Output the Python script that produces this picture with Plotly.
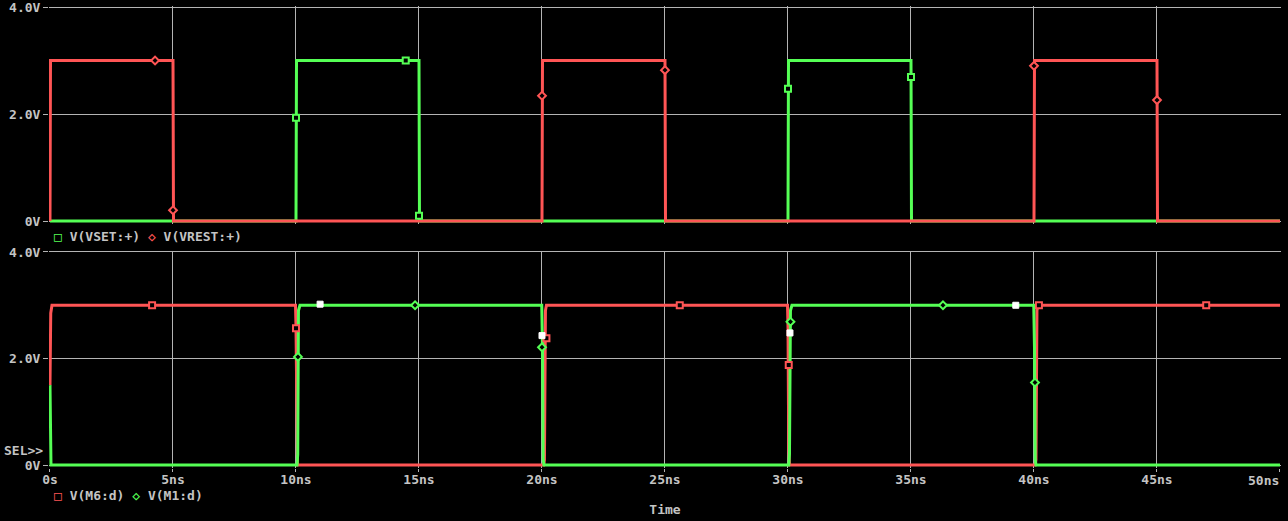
import plotly.graph_objects as go

# ---------------- data ----------------
# top panel
vset_t = [0, 10.0, 10.02, 15.0, 15.02, 30.0, 30.02, 35.0, 35.02, 50]
vset_v = [0, 0, 3, 3, 0, 0, 3, 3, 0, 0]
vrest_t = [0, 0.02, 5.0, 5.02, 20.0, 20.02, 25.0, 25.02, 40.0, 40.02, 45.0, 45.02, 50]
vrest_v = [0, 3, 3, 0, 0, 3, 3, 0, 0, 3, 3, 0, 0]
vset_mk_t = [10.0, 14.46, 15.0, 30.0, 35.0]
vset_mk_v = [1.93, 3.0, 0.1, 2.47, 2.69]
vrest_mk_t = [4.27, 5.0, 20.0, 25.0, 40.0, 45.0]
vrest_mk_v = [3.0, 0.2, 2.34, 2.82, 2.9, 2.26]

# bottom panel
m6_t = [0, 0.03, 0.08, 9.98, 10.0, 10.03, 10.06, 20.07, 20.1, 20.14, 20.18,
        29.98, 30.0, 30.03, 30.06, 40.05, 40.08, 40.12, 40.16, 50]
m6_v = [1.5, 2.85, 3.0, 3.0, 2.6, 0.3, 0.0, 0.0, 0.1, 2.9, 3.0,
        3.0, 2.6, 0.3, 0.0, 0.0, 0.1, 2.9, 3.0, 3.0]
m1_t = [0, 0.01, 0.04, 10.04, 10.07, 10.1, 10.16, 19.99, 20.02, 20.05, 20.08,
        30.03, 30.06, 30.1, 30.16, 39.99, 40.02, 40.05, 40.08, 50]
m1_v = [1.5, 0.35, 0.0, 0.0, 0.2, 2.9, 3.0, 3.0, 2.2, 0.1, 0.0,
        0.0, 0.2, 2.9, 3.0, 3.0, 2.2, 0.1, 0.0, 0.0]
m6_mk_t = [4.15, 10.0, 20.18, 25.6, 30.03, 40.2, 47.0]
m6_mk_v = [3.0, 2.57, 2.38, 3.0, 1.88, 3.0, 3.0]
m1_mk_t = [10.08, 14.84, 20.0, 30.1, 36.3, 40.04]
m1_mk_v = [2.03, 3.0, 2.21, 2.69, 3.0, 1.55]
cur_mk_t = [10.98, 20.0, 30.08, 39.26]
cur_mk_v = [3.02, 2.43, 2.48, 3.0]

x_tickvals = [0, 5, 10, 15, 20, 25, 30, 35, 40, 45, 50]
x_ticktext = ["0s", "5ns", "10ns", "15ns", "20ns", "25ns", "30ns", "35ns", "40ns", "45ns", "50ns"]
y_tickvals = [0, 2, 4]
y_ticktext = ["0V", "2.0V", "4.0V"]

# ---------------- style ----------------
W, H = 1288, 521
RED = "#ff5555"
GREEN = "#55ff55"
GRID = "#b4b4b4"
TXT = "#c4c4c4"
FONT = "DejaVu Sans Mono"

# pixel geometry
X0PX, X1PX = 50.0, 1280.0          # 0s .. 50ns
pxns = (X1PX - X0PX) / 50.0
xpad = 0.04
xr = [-xpad, 50 + xpad]
xdom = [(X0PX - xpad * pxns) / W, (X1PX + xpad * pxns) / W]

ypad_lo, ypad_hi = 0.05, 0.02
yr = [-ypad_lo, 4 + ypad_hi]
def ydom(top_px, zero_px):
    pxv = (zero_px - top_px) / 4.0
    bottom_px = zero_px + ypad_lo * pxv
    upper_px = top_px - ypad_hi * pxv
    return [(H - bottom_px) / H, (H - upper_px) / H]

fig = go.Figure()

def line(t, v, color, xa, ya):
    fig.add_trace(go.Scatter(x=t, y=v, mode="lines", line=dict(color=color, width=3),
                             xaxis=xa, yaxis=ya, showlegend=False, hoverinfo="skip"))

def marks(t, v, symbol, color, fill, size, xa, ya, lw=2):
    fig.add_trace(go.Scatter(x=t, y=v, mode="markers",
                             marker=dict(symbol=symbol, size=size, color=fill,
                                         line=dict(color=color, width=lw)),
                             cliponaxis=False,
                             xaxis=xa, yaxis=ya, showlegend=False, hoverinfo="skip"))

# top
line(vset_t, vset_v, GREEN, "x", "y")
line(vrest_t, vrest_v, RED, "x", "y")
marks(vset_mk_t, vset_mk_v, "square", GREEN, "black", 6, "x", "y")
marks(vrest_mk_t, vrest_mk_v, "diamond", RED, "black", 6, "x", "y")

# bottom
line(m6_t, m6_v, RED, "x2", "y2")
line(m1_t, m1_v, GREEN, "x2", "y2")
marks(m6_mk_t, m6_mk_v, "square", RED, "black", 6, "x2", "y2")
marks(m1_mk_t, m1_mk_v, "diamond", GREEN, "black", 6, "x2", "y2")
marks(cur_mk_t, cur_mk_v, "square", "white", "white", 6, "x2", "y2", lw=1)

tickfont = dict(family=FONT, size=13, color=TXT, weight="bold")

common_x = dict(range=xr, domain=xdom, tickvals=x_tickvals, showgrid=True,
                gridcolor=GRID, gridwidth=1, zeroline=False, showline=False,
                automargin=False, ticklabeloverflow="allow")
common_y = dict(tickvals=y_tickvals, ticktext=y_ticktext, showgrid=True, gridcolor=GRID,
                gridwidth=1, zeroline=False, showline=False, ticks="outside",
                ticklen=5, tickcolor=GRID, tickfont=tickfont, automargin=False,
                ticklabeloverflow="allow", range=yr)

# last x tick label is drawn as a right-anchored annotation so it stays inside the page
x_ticktext_axis = x_ticktext[:-1] + [""]

fig.update_layout(
    width=W, height=H,
    paper_bgcolor="black", plot_bgcolor="black",
    margin=dict(l=0, r=0, t=0, b=0, pad=0, autoexpand=False),
    showlegend=False,
    xaxis=dict(common_x, anchor="y", showticklabels=False, ticks=""),
    yaxis=dict(common_y, anchor="x", domain=ydom(7, 221)),
    xaxis2=dict(common_x, anchor="y2", ticktext=x_ticktext_axis, ticks="outside",
                ticklen=3, tickcolor=GRID, tickfont=tickfont, ticklabelstandoff=-3,
                title=dict(text="Time", font=tickfont, standoff=18)),
    yaxis2=dict(common_y, anchor="x2", domain=ydom(252, 465)),
)

fig.add_annotation(xref="x2", yref="paper", x=x_tickvals[-1], y=(H - 480) / H,
                   xanchor="right", yanchor="middle", showarrow=False, font=tickfont,
                   text=x_ticktext[-1], xshift=1)

legfont = dict(family=FONT, size=13, color=TXT, weight="bold")
fig.add_annotation(xref="paper", yref="paper", x=52 / W, y=(H - 236) / H,
                   xanchor="left", yanchor="middle", showarrow=False, font=legfont,
                   text=f"<span style='color:{GREEN}'>□</span> V(VSET:+) "
                        f"<span style='color:{RED}'>◇</span> V(VREST:+)")
fig.add_annotation(xref="paper", yref="paper", x=52 / W, y=(H - 495) / H,
                   xanchor="left", yanchor="middle", showarrow=False, font=legfont,
                   text=f"<span style='color:{RED}'>□</span> V(M6:d) "
                        f"<span style='color:{GREEN}'>◇</span> V(M1:d)")
fig.add_annotation(xref="paper", yref="paper", x=45 / W, y=(H - 450) / H,
                   xanchor="right", yanchor="middle", showarrow=False, font=legfont,
                   text="SEL&gt;&gt;")

fig.write_html("out.html", config={"displayModeBar": False},
               post_script="document.body.style.margin='0px';"
                           "document.body.style.overflow='hidden';")
